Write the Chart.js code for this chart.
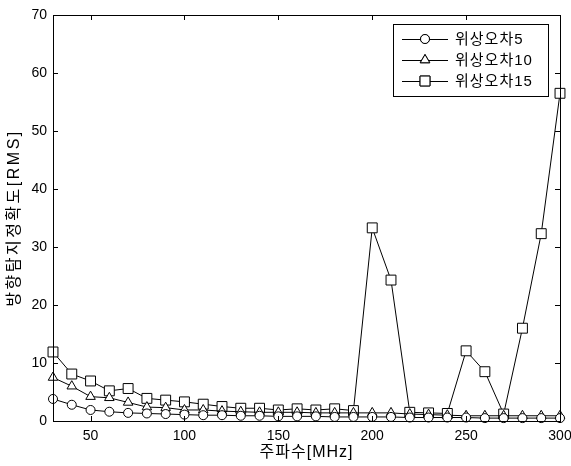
<!doctype html>
<html lang="ko">
<head>
<meta charset="UTF-8" />
<title>방향탐지정확도</title>
<style>
  html, body { margin: 0; padding: 0; background: #fff; }
  #wrap { width: 571px; height: 466px; }
</style>
</head>
<body>
<div id="wrap"><canvas id="canvas" width="571" height="466"></canvas></div>
<script src="https://cdn.jsdelivr.net/npm/chart.js"></script>
<script>
const freq = [30,40,50,60,70,80,90,100,110,120,130,140,150,160,170,180,190,200,210,220,230,240,250,260,270,280,290,300]
const err5 = [3.8,2.8,1.9,1.6,1.4,1.3,1.2,1.1,1.0,1.0,0.9,0.9,0.8,0.8,0.8,0.7,0.7,0.7,0.7,0.6,0.6,0.6,0.6,0.5,0.5,0.5,0.5,0.5]
const err10 = [7.5,6.0,4.2,4.0,3.2,2.4,2.3,1.9,1.9,1.7,1.6,1.5,1.5,1.5,1.4,1.4,1.4,1.4,1.4,1.2,1.1,1.0,0.9,0.9,0.9,0.9,0.9,0.9]
const err15 = [11.9,8.1,6.9,5.2,5.6,3.9,3.6,3.3,2.9,2.5,2.2,2.2,1.9,2.1,1.9,2.1,1.8,33.3,24.3,1.5,1.4,1.3,12.1,8.5,1.2,16.0,32.3,56.5]
const seriesNames = ['위상오차5','위상오차10','위상오차15']
const xTicks = [50,100,150,200,250,300]
const yTicks = [0,10,20,30,40,50,60,70]
const xTitle = '주파수[MHz]'
const yTitle = '방향탐지정확도[RMS]'

const font = 'Arial, "Liberation Sans", "Noto Sans CJK KR", sans-serif'
const styles = [
  {pointStyle:'circle', r:4.5},
  {pointStyle:'triangle', r:5.5},
  {pointStyle:'rect', r:7}
]
const values = [err5, err10, err15]

function mk(i){
  return {
    label: seriesNames[i],
    data: freq.map((f,k)=>({x:f, y:values[i][k]})),
    borderColor: '#000',
    borderWidth: 1,
    pointStyle: styles[i].pointStyle,
    pointRadius: styles[i].r,
    pointBorderWidth: 1,
    pointBorderColor: '#000',
    pointBackgroundColor: '#fff',
    tension: 0,
    clip: false
  }
}

// box, inward ticks, axis titles, legend
const frame = {
  id: 'frame',
  afterDatasetsDraw(chart){
    const {ctx, chartArea:a, scales:{x, y}} = chart
    ctx.save()
    ctx.strokeStyle = '#000'
    ctx.lineWidth = 1
    ctx.strokeRect(Math.round(a.left)+0.5, Math.round(a.top)+0.5, Math.round(a.right-a.left), Math.round(a.bottom-a.top))
    ctx.beginPath()
    xTicks.forEach(v=>{
      const px = Math.round(x.getPixelForValue(v))+0.5
      ctx.moveTo(px, a.bottom); ctx.lineTo(px, a.bottom-5)
      ctx.moveTo(px, a.top); ctx.lineTo(px, a.top+5)
    })
    yTicks.forEach(v=>{
      const py = Math.round(y.getPixelForValue(v))+0.5
      ctx.moveTo(a.left, py); ctx.lineTo(a.left+5, py)
      ctx.moveTo(a.right, py); ctx.lineTo(a.right-5, py)
    })
    ctx.stroke()

    // axis titles
    ctx.fillStyle = '#000'
    ctx.textAlign = 'center'
    ctx.textBaseline = 'middle'
    ctx.font = '16px ' + font
    ctx.letterSpacing = '1px'
    ctx.fillText(xTitle, (a.left+a.right)/2, 453)
    ctx.save()
    ctx.translate(15, (a.top+a.bottom)/2)
    ctx.rotate(-Math.PI/2)
    ctx.letterSpacing = '2.5px'
    ctx.fillText(yTitle, 0, 0)
    ctx.restore()

    // legend
    const lx = 393, ly = 24, lw = 155, lh = 72
    ctx.fillStyle = '#fff'
    ctx.fillRect(lx, ly, lw, lh)
    ctx.strokeRect(lx+0.5, ly+0.5, lw, lh)
    ctx.font = '15px ' + font
    ctx.letterSpacing = '1px'
    ctx.textAlign = 'left'
    seriesNames.forEach((n,i)=>{
      const ry = ly + 15 + i*21
      ctx.beginPath()
      ctx.moveTo(402, ry+0.5); ctx.lineTo(448, ry+0.5)
      ctx.stroke()
      ctx.fillStyle = '#fff'
      Chart.helpers.drawPoint(ctx, {pointStyle: styles[i].pointStyle, radius: styles[i].r, borderWidth:1}, 425, ry)
      ctx.fill(); ctx.stroke()
      ctx.fillStyle = '#000'
      ctx.fillText(n, 455, ry+1)
    })
    ctx.letterSpacing = '0px'
    ctx.restore()
  }
}

new Chart(document.getElementById('canvas'), {
  type: 'line',
  data: { datasets: [mk(0), mk(1), mk(2)] },
  options: {
    responsive: false,
    animation: false,
    layout: { padding: { top: 15, right: 11, left: 0, bottom: 0 } },
    plugins: { legend: { display: false }, tooltip: { enabled: false } },
    scales: {
      x: {
        type: 'linear', min: 30, max: 300,
        afterBuildTicks: ax => { ax.ticks = xTicks.map(v=>({value:v})) },
        afterFit: ax => { ax.height = 45; ax.paddingLeft = 0; ax.paddingRight = 0 },
        grid: { display: false, drawTicks: false },
        border: { display: false },
        ticks: { color: '#000', font: { family: font, size: 14 }, padding: 7, maxRotation: 0 }
      },
      y: {
        min: 0, max: 70,
        afterBuildTicks: ax => { ax.ticks = yTicks.map(v=>({value:v})) },
        afterFit: ax => { ax.width = 53; ax.paddingTop = 0; ax.paddingBottom = 0 },
        grid: { display: false, drawTicks: false },
        border: { display: false },
        ticks: { color: '#000', font: { family: font, size: 14 }, padding: 6 }
      }
    }
  },
  plugins: [frame]
})
</script>
</body>
</html>
